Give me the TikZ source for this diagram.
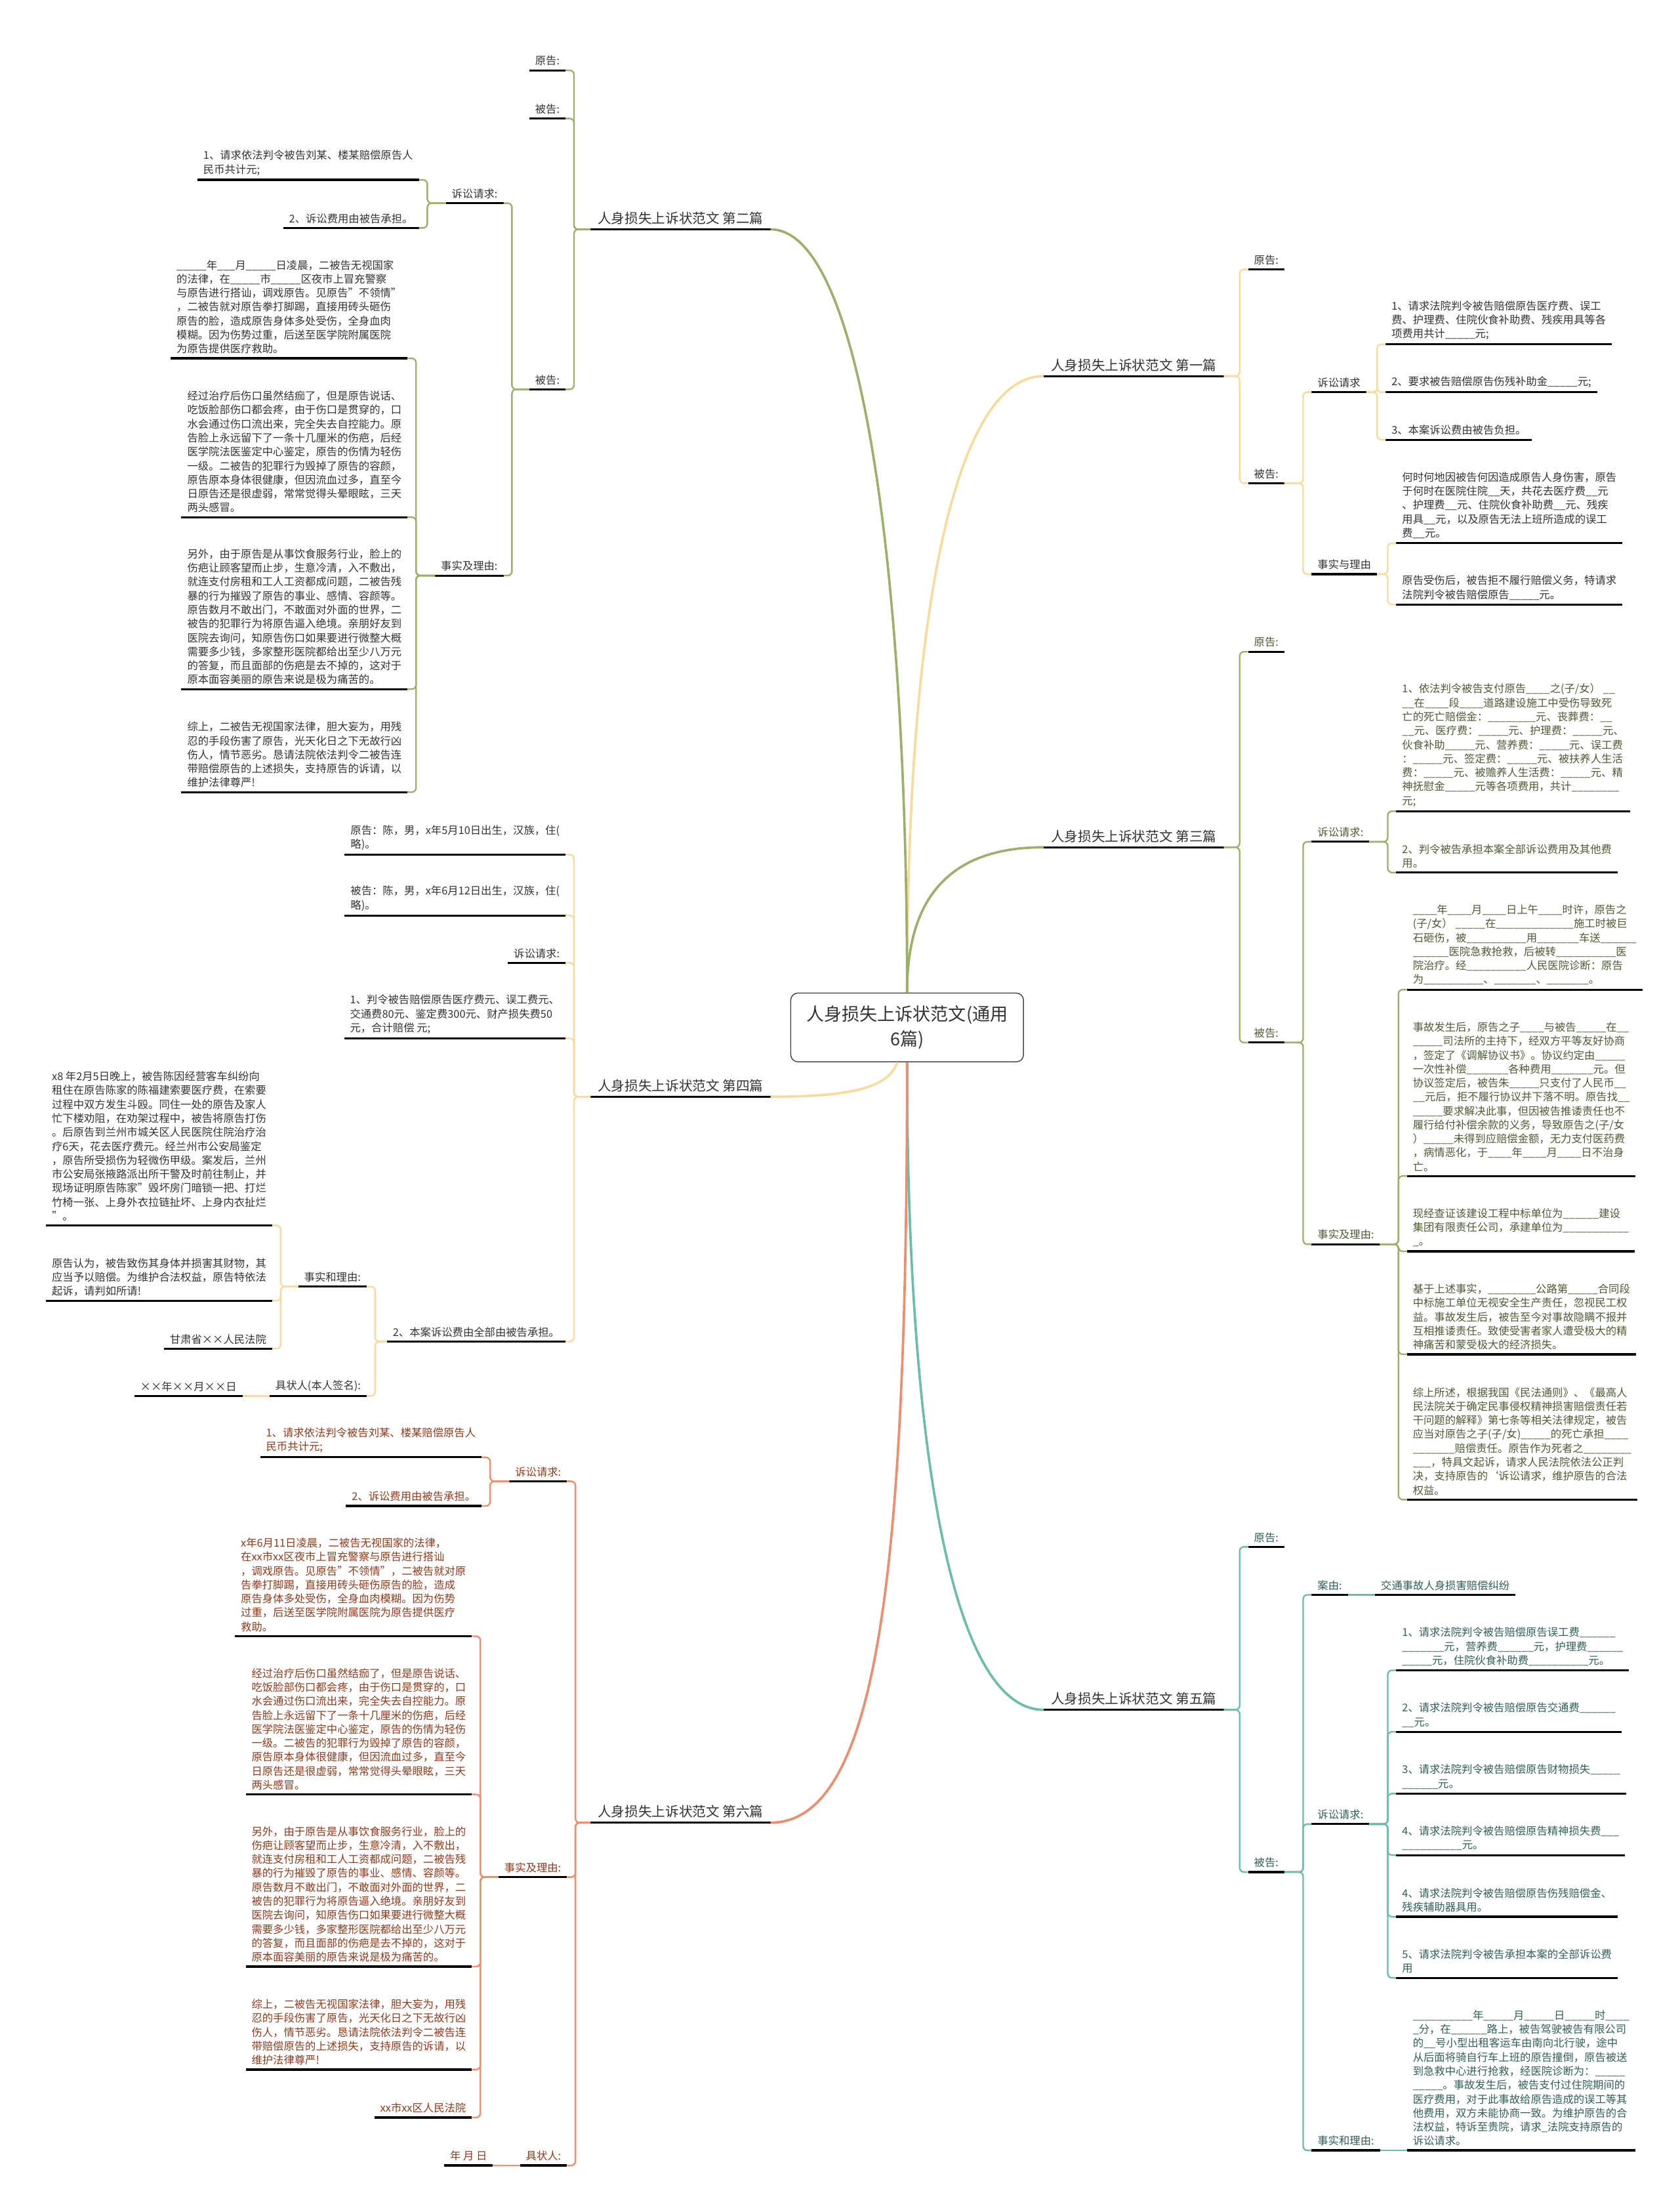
\documentclass[tikz,border=0pt]{standalone}
\usepackage{fontspec}
\setmainfont{Noto Sans CJK SC}
\usetikzlibrary{positioning}

\definecolor{cyel}{HTML}{F6DB9C}
\definecolor{colv}{HTML}{9BB06B}
\definecolor{cteal}{HTML}{6CBCAC}
\definecolor{corg}{HTML}{EE8C6C}
\definecolor{tgray}{HTML}{333333}
\definecolor{tolv}{HTML}{4E5B33}
\definecolor{tteal}{HTML}{2F5F58}
\definecolor{torg}{HTML}{8E3B1B}

\newcommand\smallfs{\fontsize{7.6}{9.9}\selectfont}
\newcommand\midfs{\fontsize{9.6}{12}\selectfont}
\newcommand\bigfs{\fontsize{12.6}{18}\selectfont}

\newcommand\txtclaim{1、请求依法判令被告刘某、楼某赔偿原告人\\民币共计元;}
\newcommand\txtcure{经过治疗后伤口虽然结痂了，但是原告说话、\\吃饭脸部伤口都会疼，由于伤口是贯穿的，口\\水会通过伤口流出来，完全失去自控能力。原\\告脸上永远留下了一条十几厘米的伤疤，后经\\医学院法医鉴定中心鉴定，原告的伤情为轻伤\\一级。二被告的犯罪行为毁掉了原告的容颜，\\原告原本身体很健康，但因流血过多，直至今\\日原告还是很虚弱，常常觉得头晕眼眩，三天\\两头感冒。}
\newcommand\txtbiz{另外，由于原告是从事饮食服务行业，脸上的\\伤疤让顾客望而止步，生意冷清，入不敷出，\\就连支付房租和工人工资都成问题，二被告残\\暴的行为摧毁了原告的事业、感情、容颜等。\\原告数月不敢出门，不敢面对外面的世界，二\\被告的犯罪行为将原告逼入绝境。亲朋好友到\\医院去询问，知原告伤口如果要进行微整大概\\需要多少钱，多家整形医院都给出至少八万元\\的答复，而且面部的伤疤是去不掉的，这对于\\原本面容美丽的原告来说是极为痛苦的。}
\newcommand\txtsum{综上，二被告无视国家法律，胆大妄为，用残\\忍的手段伤害了原告，光天化日之下无故行凶\\伤人，情节恶劣。恳请法院依法判令二被告连\\带赔偿原告的上述损失，支持原告的诉请，以\\维护法律尊严!}

\begin{document}
\catcode`\_=12
\begin{tikzpicture}[x=1pt, y=-1pt,
    trunk/.style={line width=1.7pt},
    bra/.style={line width=1.1pt, rounded corners=3pt},
    ul/.style={draw=black, line width=1.5pt},
    leaf/.style={inner xsep=4pt, inner ysep=3pt, align=left, font=\smallfs,
      append after command={(\tikzlastnode.south west) edge[ul] (\tikzlastnode.south east)}},
    rleaf/.style={leaf, anchor=south west},
    lleaf/.style={leaf, anchor=south east},
    branch/.style={leaf, font=\midfs, inner xsep=5pt, text=tgray},
    root/.style={draw=black!70, line width=0.7pt, rounded corners=5pt, align=center,
      font=\bigfs, text=tgray, minimum width=165pt, minimum height=48.7pt}]

\fill[white] (0,0) rectangle (1191,1568);

\node[root] (root) at (643.2,728.3) {人身损失上诉状范文(通用\\6篇)};

\node[branch, anchor=south west] (b1) at (740,266.6) {人身损失上诉状范文 第一篇};
\node[branch, anchor=south west] (b3) at (740,600.6) {人身损失上诉状范文 第三篇};
\node[branch, anchor=south west] (b5) at (740,1212) {人身损失上诉状范文 第五篇};
\node[branch, anchor=south east] (b2) at (546.4,162.6) {人身损失上诉状范文 第二篇};
\node[branch, anchor=south east] (b4) at (546.4,777.4) {人身损失上诉状范文 第四篇};
\node[branch, anchor=south east] (b6) at (546.4,1292) {人身损失上诉状范文 第六篇};

\draw[trunk,cyel] (root.north) .. controls (643,420) and (680,266.6) .. (b1.south west);
\draw[trunk,colv] (root.north) .. controls (643,400) and (610,162.6) .. (b2.south east);
\draw[trunk,colv] (root.north) .. controls (643,640) and (670,600.6) .. (b3.south west);
\draw[trunk,cyel] ([xshift=-7pt]root.south) .. controls (630,772) and (600,777.4) .. (b4.south east);
\draw[trunk,cteal] (root.south) .. controls (643,1000) and (670,1212) .. (b5.south west);
\draw[trunk,corg] (root.south) .. controls (643,1100) and (625,1292) .. (b6.south east);

% 第一篇
\begin{scope}[nodes={text=tgray}]
\node[rleaf] (b1y) at (885,191) {原告:};
\node[rleaf] (b1n) at (885,342.5) {被告:};
\node[rleaf] (b1q) at (930,278) {诉讼请求};
\node[rleaf] (b1f) at (930,407) {事实与理由};
\node[rleaf] (b1q1) at (982.5,244) {1、请求法院判令被告赔偿原告医疗费、误工\\费、护理费、住院伙食补助费、残疾用具等各\\项费用共计_____元;};
\node[rleaf] (b1q2) at (982.5,278) {2、要求被告赔偿原告伤残补助金_____元;};
\node[rleaf] (b1q3) at (982.5,311.7) {3、本案诉讼费由被告负担。};
\node[rleaf] (b1f1) at (990,385) {何时何地因被告何因造成原告人身伤害，原告\\于何时在医院住院__天，共花去医疗费__元\\、护理费__元、住院伙食补助费__元、残疾\\用具__元，以及原告无法上班所造成的误工\\费__元。};
\node[rleaf] (b1f2) at (990,428.5) {原告受伤后，被告拒不履行赔偿义务，特请求\\法院判令被告赔偿原告_____元。};
\foreach \kid in {b1y,b1n} \draw[bra,cyel] (b1.south east) -| ([xshift=-6pt]\kid.south west) -- (\kid.south west);
\foreach \kid in {b1q,b1f} \draw[bra,cyel] (b1n.south east) -| ([xshift=-6pt]\kid.south west) -- (\kid.south west);
\foreach \kid in {b1q1,b1q2,b1q3} \draw[bra,cyel] (b1q.south east) -| ([xshift=-6pt]\kid.south west) -- (\kid.south west);
\foreach \kid in {b1f1,b1f2} \draw[bra,cyel] (b1f.south east) -| ([xshift=-6pt]\kid.south west) -- (\kid.south west);
\end{scope}

% 第三篇
\begin{scope}[nodes={text=tolv}]
\node[rleaf] (b3y) at (885,462) {原告:};
\node[rleaf] (b3n) at (885,739) {被告:};
\node[rleaf] (b3q) at (930,596.7) {诉讼请求:};
\node[rleaf] (b3f) at (930,882) {事实及理由:};
\node[rleaf] (b3q1) at (990,575) {1、依法判令被告支付原告____之(子/女） __\\__在____段____道路建设施工中受伤导致死\\亡的死亡赔偿金：________元、丧葬费：__\\__元、医疗费：_____元、护理费：_____元、\\伙食补助_____元、营养费：_____元、误工费\\：_____元、签定费：_____元、被扶养人生活\\费：_____元、被赡养人生活费：_____元、精\\神抚慰金_____元等各项费用，共计________\\元;};
\node[rleaf] (b3q2) at (990,618.5) {2、判令被告承担本案全部诉讼费用及其他费\\用。};
\node[rleaf] (b3f1) at (997.6,701.5) {____年____月____日上午____时许，原告之\\(子/女） _____在_____________施工时被巨\\石砸伤，被__________用_______车送______\\______医院急救抢救，后被转__________医\\院治疗。经__________人民医院诊断：原告\\为__________、_______、_______。};
\node[rleaf] (b3f2) at (997.6,833.6) {事故发生后，原告之子____与被告_____在__\\_____司法所的主持下，经双方平等友好协商\\，签定了《调解协议书》。协议约定由_____\\一次性补偿_______各种费用_______元。但\\协议签定后，被告朱_____只支付了人民币__\\__元后，拒不履行协议并下落不明。原告找__\\_____要求解决此事，但因被告推诿责任也不\\履行给付补偿余款的义务，导致原告之(子/女\\）_____未得到应赔偿金额，无力支付医药费\\，病情恶化，于____年____月____日不治身\\亡。};
\node[rleaf] (b3f3) at (997.6,887) {现经查证该建设工程中标单位为______建设\\集团有限责任公司，承建单位为___________\\_。};
\node[rleaf] (b3f4) at (997.6,960) {基于上述事实，________公路第_____合同段\\中标施工单位无视安全生产责任，忽视民工权\\益。事故发生后，被告至今对事故隐瞒不报并\\互相推诿责任。致使受害者家人遭受极大的精\\神痛苦和蒙受极大的经济损失。};
\node[rleaf] (b3f5) at (997.6,1063) {综上所述，根据我国《民法通则》、《最高人\\民法院关于确定民事侵权精神损害赔偿责任若\\干问题的解释》第七条等相关法律规定，被告\\应当对原告之子(子/女)_____的死亡承担____\\_______赔偿责任。原告作为死者之________\\___，特具文起诉，请求人民法院依法公正判\\决，支持原告的`诉讼请求，维护原告的合法\\权益。};
\foreach \kid in {b3y,b3n} \draw[bra,colv] (b3.south east) -| ([xshift=-6pt]\kid.south west) -- (\kid.south west);
\foreach \kid in {b3q,b3f} \draw[bra,colv] (b3n.south east) -| ([xshift=-6pt]\kid.south west) -- (\kid.south west);
\foreach \kid in {b3q1,b3q2} \draw[bra,colv] (b3q.south east) -| ([xshift=-6pt]\kid.south west) -- (\kid.south west);
\foreach \kid in {b3f1,b3f2,b3f3,b3f4,b3f5} \draw[bra,colv] (b3f.south east) -| ([xshift=-6pt]\kid.south west) -- (\kid.south west);
\end{scope}

% 第五篇
\begin{scope}[nodes={text=tteal}]
\node[rleaf] (b5y) at (885,1096.5) {原告:};
\node[rleaf] (b5n) at (885,1327) {被告:};
\node[rleaf] (b5a) at (930,1130.5) {案由:};
\node[rleaf] (b5ax) at (975,1130.5) {交通事故人身损害赔偿纠纷};
\node[rleaf] (b5q) at (930,1293) {诉讼请求:};
\node[rleaf] (b5f) at (930,1524.3) {事实和理由:};
\node[rleaf] (b5q1) at (990,1184) {1、请求法院判令被告赔偿原告误工费______\\_______元，营养费______元，护理费______\\_____元，住院伙食补助费__________元。};
\node[rleaf] (b5q2) at (990,1227.6) {2、请求法院判令被告赔偿原告交通费______\\__元。};
\node[rleaf] (b5q3) at (990,1271.4) {3、请求法院判令被告赔偿原告财物损失_____\\______元。};
\node[rleaf] (b5q4) at (990,1315) {4、请求法院判令被告赔偿原告精神损失费___\\__________元。};
\node[rleaf] (b5q5) at (990,1358.7) {4、请求法院判令被告赔偿原告伤残赔偿金、\\残疾辅助器具用。};
\node[rleaf] (b5q6) at (990,1402) {5、请求法院判令被告承担本案的全部诉讼费\\用};
\node[rleaf] (b5f1) at (997.6,1524.3) {__________年_____月_____日_____时____\\_分，在______路上，被告驾驶被告有限公司\\的__号小型出租客运车由南向北行驶，途中\\从后面将骑自行车上班的原告撞倒，原告被送\\到急救中心进行抢救，经医院诊断为：_____\\_____。事故发生后，被告支付过住院期间的\\医疗费用，对于此事故给原告造成的误工等其\\他费用，双方未能协商一致。为维护原告的合\\法权益，特诉至贵院，请求_法院支持原告的\\诉讼请求。};
\foreach \kid in {b5y,b5n} \draw[bra,cteal] (b5.south east) -| ([xshift=-6pt]\kid.south west) -- (\kid.south west);
\foreach \kid in {b5a,b5q,b5f} \draw[bra,cteal] (b5n.south east) -| ([xshift=-6pt]\kid.south west) -- (\kid.south west);
\draw[bra,cteal] (b5a.south east) -- (b5ax.south west);
\foreach \kid in {b5q1,b5q2,b5q3,b5q4,b5q5,b5q6} \draw[bra,cteal] (b5q.south east) -| ([xshift=-6pt]\kid.south west) -- (\kid.south west);
\draw[bra,cteal] (b5f.south east) -- (b5f1.south west);
\end{scope}

% 第二篇
\begin{scope}[nodes={text=tgray}]
\node[lleaf] (b2y) at (401,49.9) {原告:};
\node[lleaf] (b2n) at (401,84) {被告:};
\node[lleaf] (b2m) at (401,276) {被告:};
\node[lleaf] (b2q) at (357,144) {诉讼请求:};
\node[lleaf] (b2f) at (357,408) {事实及理由:};
\node[lleaf] (b2q1) at (297,127.5) {\txtclaim};
\node[lleaf] (b2q2) at (297,161.6) {2、诉讼费用由被告承担。};
\node[lleaf] (b2f1) at (289,254) {_____年___月_____日凌晨，二被告无视国家\\的法律，在_____市_____区夜市上冒充警察\\与原告进行搭讪，调戏原告。见原告"不领情"\\，二被告就对原告拳打脚踢，直接用砖头砸伤\\原告的脸，造成原告身体多处受伤，全身血肉\\模糊。因为伤势过重，后送至医学院附属医院\\为原告提供医疗救助。};
\node[lleaf] (b2f2) at (289,366.6) {\txtcure};
\node[lleaf] (b2f3) at (289,488.5) {\txtbiz};
\node[lleaf] (b2f4) at (289,561.5) {\txtsum};
\foreach \kid in {b2y,b2n,b2m} \draw[bra,colv] (b2.south west) -| ([xshift=6pt]\kid.south east) -- (\kid.south east);
\foreach \kid in {b2q,b2f} \draw[bra,colv] (b2m.south west) -| ([xshift=6pt]\kid.south east) -- (\kid.south east);
\foreach \kid in {b2q1,b2q2} \draw[bra,colv] (b2q.south west) -| ([xshift=6pt]\kid.south east) -- (\kid.south east);
\foreach \kid in {b2f1,b2f2,b2f3,b2f4} \draw[bra,colv] (b2f.south west) -| ([xshift=6pt]\kid.south east) -- (\kid.south east);
\end{scope}

% 第四篇
\begin{scope}[nodes={text=tgray}]
\node[lleaf] (b4y) at (401,605.8) {原告：陈，男，x年5月10日出生，汉族，住(\\略)。};
\node[lleaf] (b4n) at (401,649) {被告：陈，男，x年6月12日出生，汉族，住(\\略)。};
\node[lleaf] (b4q) at (401,682.5) {诉讼请求:};
\node[lleaf] (b4q1) at (401,736) {1、判令被告赔偿原告医疗费元、误工费元、\\交通费80元、鉴定费300元、财产损失费50\\元，合计赔偿 元;};
\node[lleaf] (b4q2) at (401,951) {2、本案诉讼费由全部由被告承担。};
\node[lleaf] (b4f) at (260,912) {事实和理由:};
\node[lleaf] (b4s) at (260,989.5) {具状人(本人签名):};
\node[lleaf] (b4f1) at (193,868.6) {x8 年2月5日晚上，被告陈因经营客车纠纷向\\租住在原告陈家的陈福建索要医疗费，在索要\\过程中双方发生斗殴。同住一处的原告及家人\\忙下楼劝阻，在劝架过程中，被告将原告打伤\\。后原告到兰州市城关区人民医院住院治疗治\\疗6天，花去医疗费元。经兰州市公安局鉴定\\，原告所受损伤为轻微伤甲级。案发后，兰州\\市公安局张掖路派出所干警及时前往制止，并\\现场证明原告陈家"毁坏房门暗锁一把、打烂\\竹椅一张、上身外衣拉链扯坏、上身内衣扯烂\\"。};
\node[lleaf] (b4f2) at (193,922) {原告认为，被告致伤其身体并损害其财物，其\\应当予以赔偿。为维护合法权益，原告特依法\\起诉，请判如所请!};
\node[lleaf] (b4f3) at (193,956) {甘肃省××人民法院};
\node[lleaf] (b4s1) at (172,989.5) {××年××月××日};
\foreach \kid in {b4y,b4n,b4q,b4q1,b4q2} \draw[bra,cyel] (b4.south west) -| ([xshift=6pt]\kid.south east) -- (\kid.south east);
\foreach \kid in {b4f,b4s} \draw[bra,cyel] (b4q2.south west) -| ([xshift=6pt]\kid.south east) -- (\kid.south east);
\foreach \kid in {b4f1,b4f2,b4f3} \draw[bra,cyel] (b4f.south west) -| ([xshift=6pt]\kid.south east) -- (\kid.south east);
\draw[bra,cyel] (b4s.south west) -- (b4s1.south east);
\end{scope}

% 第六篇
\begin{scope}[nodes={text=torg}]
\node[lleaf] (b6q) at (402,1050) {诉讼请求:};
\node[lleaf] (b6f) at (402,1330.6) {事实及理由:};
\node[lleaf] (b6s) at (402,1535) {具状人:};
\node[lleaf] (b6q1) at (341.5,1033) {\txtclaim};
\node[lleaf] (b6q2) at (341.5,1067.5) {2、诉讼费用由被告承担。};
\node[lleaf] (b6f1) at (334.6,1159.8) {x年6月11日凌晨，二被告无视国家的法律，\\在xx市xx区夜市上冒充警察与原告进行搭讪\\，调戏原告。见原告"不领情"，二被告就对原\\告拳打脚踢，直接用砖头砸伤原告的脸，造成\\原告身体多处受伤，全身血肉模糊。因为伤势\\过重，后送至医学院附属医院为原告提供医疗\\救助。};
\node[lleaf] (b6f2) at (334.6,1272) {\txtcure};
\node[lleaf] (b6f3) at (334.6,1394) {\txtbiz};
\node[lleaf] (b6f4) at (334.6,1467) {\txtsum};
\node[lleaf] (b6f5) at (334.6,1501) {xx市xx区人民法院};
\node[lleaf] (b6s1) at (349.5,1535) {年 月 日};
\foreach \kid in {b6q,b6f,b6s} \draw[bra,corg] (b6.south west) -| ([xshift=6pt]\kid.south east) -- (\kid.south east);
\foreach \kid in {b6q1,b6q2} \draw[bra,corg] (b6q.south west) -| ([xshift=6pt]\kid.south east) -- (\kid.south east);
\foreach \kid in {b6f1,b6f2,b6f3,b6f4,b6f5} \draw[bra,corg] (b6f.south west) -| ([xshift=6pt]\kid.south east) -- (\kid.south east);
\draw[bra,corg] (b6s.south west) -- (b6s1.south east);
\end{scope}
\end{tikzpicture}
\end{document}
